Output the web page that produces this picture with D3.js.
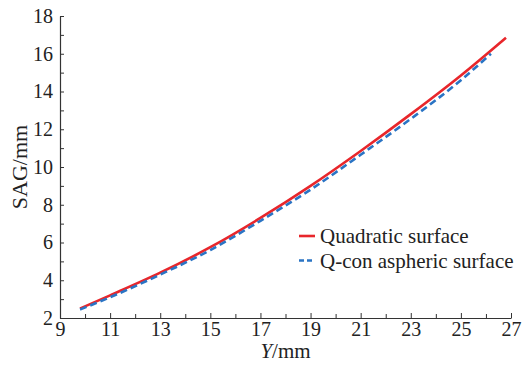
<!DOCTYPE html>
<html>
<head>
<meta charset="utf-8">
<script src="https://cdn.jsdelivr.net/npm/d3@7"></script>
<style>
  body { margin: 0; background: #fff; }
  text { font-family: "Liberation Serif", "Times New Roman", serif; fill: #222; }
</style>
</head>
<body>
<div id="plot"></div>
<script>
// data
const quadY   = [9.8, 11, 13, 15, 17, 19, 21, 23, 25, 26.8];
const quadSag = [2.5, 3.2, 4.4, 5.75, 7.3, 9.0, 10.85, 12.8, 14.85, 16.85];
const qconY   = [9.8, 11, 13, 15, 17, 19, 21, 23, 25, 26.2];
const qconSag = [2.45, 3.1, 4.3, 5.6, 7.15, 8.8, 10.65, 12.55, 14.6, 16.0];
const xTicks = [9, 11, 13, 15, 17, 19, 21, 23, 25, 27];
const yTicks = [2, 4, 6, 8, 10, 12, 14, 16, 18];
const seriesNames = ["Quadratic surface", "Q-con aspheric surface"];

const W = 523, H = 366;
const margin = {top: 16, right: 12, bottom: 48, left: 60};
const width = W - margin.left - margin.right;
const height = H - margin.top - margin.bottom;

const svg = d3.select("#plot").append("svg")
    .attr("width", W).attr("height", H);
const g = svg.append("g")
    .attr("transform", "translate(" + margin.left + "," + margin.top + ")");

const x = d3.scaleLinear().domain([9, 27]).range([0, width]);
const y = d3.scaleLinear().domain([2, 18]).range([height, 0]);

// axes, ticks inward, minor ticks every 1 unit
const xAxis = g.append("g").attr("transform", "translate(0," + height + ")")
    .call(d3.axisBottom(x).tickValues(d3.range(9, 28, 1)).tickSize(-4).tickSizeOuter(0)
      .tickFormat(d => xTicks.includes(d) ? d : ""));
const yAxis = g.append("g")
    .call(d3.axisLeft(y).tickValues(d3.range(2, 19, 1)).tickSize(-4).tickSizeOuter(0)
      .tickFormat(d => yTicks.includes(d) ? d : ""));

[xAxis, yAxis].forEach(a => {
  a.attr("font-family", null);
  a.select(".domain").attr("stroke", "#333").attr("stroke-width", 1.2);
  a.selectAll(".tick line").attr("stroke", "#333");
  a.selectAll(".tick text").style("font-size", "20px").attr("fill", "#222");
});
xAxis.selectAll(".tick text").attr("y", 4);
yAxis.selectAll(".tick text").attr("x", -7);
xAxis.selectAll(".tick line").attr("y2", d => xTicks.includes(d) ? -5 : -4);

const line = d3.line().x(d => x(d[0])).y(d => y(d[1])).curve(d3.curveMonotoneX);

g.append("path").datum(quadY.map((v, i) => [v, quadSag[i]]))
    .attr("d", line).attr("fill", "none")
    .attr("stroke", "#e8262b").attr("stroke-width", 2.6);
g.append("path").datum(qconY.map((v, i) => [v, qconSag[i]]))
    .attr("d", line).attr("fill", "none")
    .attr("stroke", "#2a74c4").attr("stroke-width", 2.6)
    .attr("stroke-dasharray", "7,4");

// legend
const leg = svg.append("g").attr("transform", "translate(299,236)");
const colors = ["#e8262b", "#2a74c4"];
seriesNames.forEach((n, i) => {
  leg.append("line").attr("x1", 0).attr("x2", 16).attr("y1", i * 24.5).attr("y2", i * 24.5)
    .attr("stroke", colors[i]).attr("stroke-width", 2.6)
    .attr("stroke-dasharray", i ? "5,3" : null);
  leg.append("text").attr("x", 21).attr("y", i * 24.5 + 7)
    .style("font-size", "21px").text(n);
});

// axis titles
svg.append("text").attr("x", margin.left + width / 2).attr("y", H - 8)
    .attr("text-anchor", "middle").style("font-size", "21px")
    .html('<tspan font-style="italic">Y</tspan>/mm');
svg.append("text")
    .attr("transform", "translate(27," + (margin.top + height / 2) + ") rotate(-90)")
    .attr("text-anchor", "middle").style("font-size", "22px")
    .text("SAG/mm");
</script>
</body>
</html>
